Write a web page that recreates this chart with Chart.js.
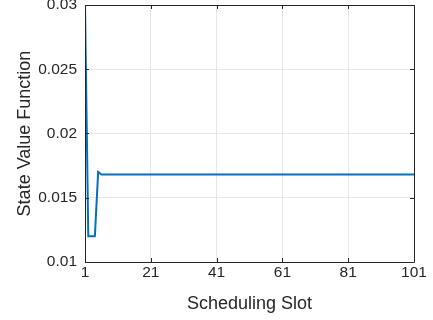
<!DOCTYPE html>
<html>
<head>
<meta charset="utf-8">
<script src="https://cdn.jsdelivr.net/npm/chart.js@4"></script>
<style>
  html, body { margin: 0; padding: 0; background: #fff; }
  #wrap { width: 433px; height: 320px; position: relative; }
</style>
</head>
<body>
<div id="wrap"><canvas id="myChart" width="433" height="320"></canvas></div>
<script>
// scheduling slots (x) and the state value (y)
const slots = [
    1, 2, 3, 4, 5, 6, 7, 8, 9, 10, 11, 12, 13, 14, 15, 16, 17, 18, 19, 20,
    21, 22, 23, 24, 25, 26, 27, 28, 29, 30, 31, 32, 33, 34, 35, 36, 37, 38, 39, 40,
    41, 42, 43, 44, 45, 46, 47, 48, 49, 50, 51, 52, 53, 54, 55, 56, 57, 58, 59, 60,
    61, 62, 63, 64, 65, 66, 67, 68, 69, 70, 71, 72, 73, 74, 75, 76, 77, 78, 79, 80,
    81, 82, 83, 84, 85, 86, 87, 88, 89, 90, 91, 92, 93, 94, 95, 96, 97, 98, 99, 100,
    101
];
const stateValues = [
    0.03, 0.012, 0.012, 0.012, 0.017,
    0.0168, 0.0168, 0.0168, 0.0168, 0.0168, 0.0168, 0.0168, 0.0168, 0.0168, 0.0168, 0.0168, 0.0168,
    0.0168, 0.0168, 0.0168, 0.0168, 0.0168, 0.0168, 0.0168, 0.0168, 0.0168, 0.0168, 0.0168, 0.0168,
    0.0168, 0.0168, 0.0168, 0.0168, 0.0168, 0.0168, 0.0168, 0.0168, 0.0168, 0.0168, 0.0168, 0.0168,
    0.0168, 0.0168, 0.0168, 0.0168, 0.0168, 0.0168, 0.0168, 0.0168, 0.0168, 0.0168, 0.0168, 0.0168,
    0.0168, 0.0168, 0.0168, 0.0168, 0.0168, 0.0168, 0.0168, 0.0168, 0.0168, 0.0168, 0.0168, 0.0168,
    0.0168, 0.0168, 0.0168, 0.0168, 0.0168, 0.0168, 0.0168, 0.0168, 0.0168, 0.0168, 0.0168, 0.0168,
    0.0168, 0.0168, 0.0168, 0.0168, 0.0168, 0.0168, 0.0168, 0.0168, 0.0168, 0.0168, 0.0168, 0.0168,
    0.0168, 0.0168, 0.0168, 0.0168, 0.0168, 0.0168, 0.0168, 0.0168, 0.0168, 0.0168, 0.0168, 0.0168
];
const xTicks = [1, 21, 41, 61, 81, 101];
const yTicks = [0.01, 0.015, 0.02, 0.025, 0.03];
const yTickLabels = ['0.01', '0.015', '0.02', '0.025', '0.03'];

const axisColor = '#262626';
const fontFamily = "'Liberation Sans', Arial, Helvetica, sans-serif";

// MATLAB style box with inward ticks
const boxPlugin = {
    id: 'matlabBox',
    afterDraw(chart) {
        const ctx = chart.ctx;
        const a = chart.chartArea;
        const xs = chart.scales.x, ys = chart.scales.y;
        ctx.save();
        ctx.strokeStyle = axisColor;
        ctx.lineWidth = 1;
        ctx.beginPath();
        ctx.rect(Math.round(a.left) + 0.5, Math.round(a.top) + 0.5,
                 Math.round(a.right - a.left), Math.round(a.bottom - a.top));
        ctx.stroke();
        const len = 4;
        ctx.beginPath();
        xTicks.forEach(v => {
            const px = Math.round(xs.getPixelForValue(v)) + 0.5;
            ctx.moveTo(px, a.bottom); ctx.lineTo(px, a.bottom - len);
            ctx.moveTo(px, a.top); ctx.lineTo(px, a.top + len);
        });
        yTicks.forEach(v => {
            const py = Math.round(ys.getPixelForValue(v)) + 0.5;
            ctx.moveTo(a.left, py); ctx.lineTo(a.left + len, py);
            ctx.moveTo(a.right, py); ctx.lineTo(a.right - len, py);
        });
        ctx.stroke();
        ctx.restore();
    }
};

const ctx = document.getElementById('myChart').getContext('2d');
const myChart = new Chart(ctx, {
    type: 'line',
    data: {
        datasets: [{
            label: 'State Value Function',
            data: slots.map((s, i) => ({ x: s, y: stateValues[i] })),
            borderColor: '#0072BD',
            borderWidth: 2,
            pointRadius: 0,
            tension: 0,
            fill: false
        }]
    },
    options: {
        responsive: false,
        animation: false,
        events: [],
        layout: { padding: { top: 5, right: 19, left: 0, bottom: 0 } },
        plugins: {
            legend: { display: false },
            tooltip: { enabled: false }
        },
        scales: {
            x: {
                type: 'linear',
                min: 1,
                max: 101,
                afterBuildTicks: scale => { scale.ticks = xTicks.map(v => ({ value: v })); },
                afterFit: scale => { scale.height = 58; },
                grid: { color: '#e6e6e6', drawTicks: false },
                border: { display: false },
                ticks: {
                    color: axisColor,
                    padding: 1,
                    maxRotation: 0,
                    font: { family: fontFamily, size: 15.5 },
                    callback: v => String(v)
                },
                title: {
                    display: true,
                    text: 'Scheduling Slot',
                    color: axisColor,
                    padding: { top: 2, bottom: 5 },
                    font: { family: fontFamily, size: 18 }
                }
            },
            y: {
                min: 0.01,
                max: 0.03,
                afterBuildTicks: scale => { scale.ticks = yTicks.map(v => ({ value: v })); },
                afterFit: scale => {
                    scale.width = 85;
                    scale.paddingTop = 0;
                    scale.paddingBottom = 0;
                },
                grid: { color: '#e6e6e6', drawTicks: false },
                border: { display: false },
                ticks: {
                    color: axisColor,
                    padding: 8,
                    font: { family: fontFamily, size: 15.5 },
                    callback: (v, i) => yTickLabels[i]
                },
                title: {
                    display: true,
                    text: 'State Value Function',
                    color: axisColor,
                    padding: { top: 14, bottom: 6 },
                    font: { family: fontFamily, size: 18 }
                }
            }
        }
    },
    plugins: [boxPlugin]
});
</script>
</body>
</html>
